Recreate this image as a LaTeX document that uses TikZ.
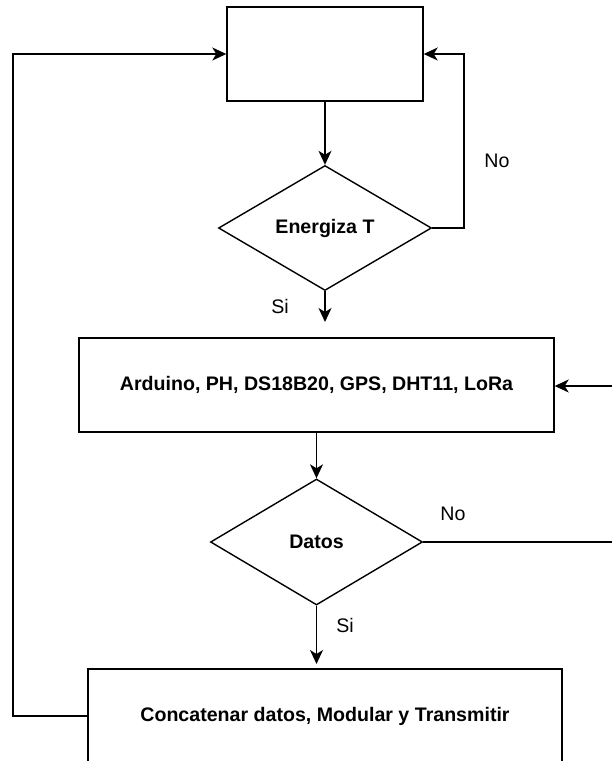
\documentclass[tikz,border=0pt]{standalone}
\usepackage{fontspec}
\setmainfont{Liberation Sans}
\usetikzlibrary{shapes.geometric,arrows.meta}
\tikzset{
  box/.style={draw, line width=1.4pt, rectangle, minimum height=94pt, inner sep=0pt, font=\fontsize{19.6}{23}\selectfont\bfseries},
  dec/.style={draw, line width=1.4pt, diamond, inner sep=0pt, font=\fontsize{19.6}{23}\selectfont\bfseries},
  conn/.style={line width=1.4pt},
  arr/.style={conn, -{Stealth[length=14pt,width=13pt,inset=4pt]}},
  lbl/.style={font=\fontsize{19.6}{23}\selectfont, inner sep=0pt}
}
\begin{document}
\begin{tikzpicture}[x=1pt,y=-1pt]
\useasboundingbox (0,0) rectangle (612,761);
\node[box, minimum width=196pt] (top) at (325,54) {};
\node[dec, minimum width=213pt, minimum height=125pt] (d1) at (325,228) {Energiza T};
\node[box, minimum width=475pt] (b2) at (316.5,385) {Arduino, PH, DS18B20, GPS, DHT11, LoRa};
\node[dec, minimum width=212pt, minimum height=126pt] (d2) at (316.5,542) {Datos};
\node[box, minimum width=474pt] (b3) at (325,716) {Concatenar datos, Modular y Transmitir};

\coordinate (t1) at (325,322);
\coordinate (t2) at (316.5,664);
\coordinate (rin) at (613,386);
\coordinate (rout) at (613,542);
\coordinate (lx) at (13,0);
\coordinate (rx) at (464,0);

\draw[arr] (top.south) -- (d1.north);
\draw[arr] (d1.east) -- (d1.east -| rx) -- (top.east -| rx) -- (top.east);
\draw[arr] (d1.south) -- (t1);
\draw[arr] (rin) -- (b2.east |- rin);
\draw[arr] (b2.south -| d2.north) -- (d2.north);
\draw[conn] (d2.east) -- (rout);
\draw[arr] (d2.south) -- (t2);
\draw[arr] (b3.west) -- (b3.west -| lx) -- (top.west -| lx) -- (top.west);

\node[lbl] (no1) at (497,161) {No};
\node[lbl] (si1) at (280,306) {Si};
\node[lbl] (no2) at (453,514) {No};
\node[lbl] (si2) at (345,625) {Si};
\end{tikzpicture}
\end{document}
